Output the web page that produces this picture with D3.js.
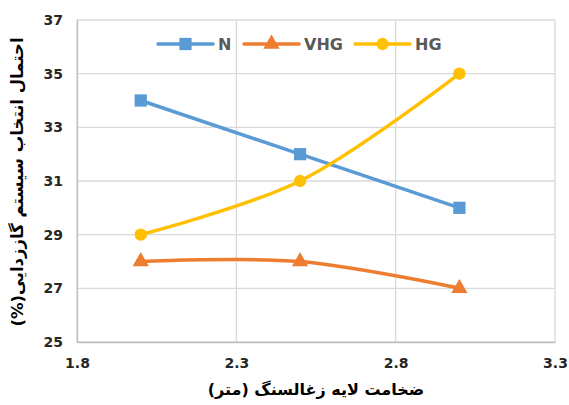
<!DOCTYPE html>
<html>
<head>
<meta charset="utf-8">
<script src="https://cdn.jsdelivr.net/npm/d3@7"></script>
<style>
  html, body { margin: 0; padding: 0; background: #fff; }
  svg { display: block; }
</style>
</head>
<body>
<svg id="chart" width="569" height="405"></svg>
<script>
// Coal-seam thickness (m) vs. probability of choosing each drainage system (%)
const thickness = [2.0, 2.5, 3.0];
const seriesNames = ["N", "VHG", "HG"];
const valuesN = [34, 32, 30];
const valuesVHG = [28, 28, 27];
const valuesHG = [29, 31, 35];
const xTicks = [1.8, 2.3, 2.8, 3.3];
const yTicks = [25, 27, 29, 31, 33, 35, 37];
const xTitle = "ضخامت لایه زغالسنگ (متر)";
const yTitle = "احتمال انتخاب سیستم گاززدایی(%)";

const colors = { N: "#5B9BD5", VHG: "#ED7D31", HG: "#FFC000" };
const smooth = { N: false, VHG: true, HG: true };
const symbols = { N: d3.symbolSquare, VHG: d3.symbolTriangle, HG: d3.symbolCircle };
const symbolSize = { N: 150, VHG: 115, HG: 120 };

const series = [
  { name: "N", values: valuesN },
  { name: "VHG", values: valuesVHG },
  { name: "HG", values: valuesHG }
];

const svg = d3.select("#chart");
const margin = { left: 77, right: 14, top: 20, bottom: 63 };
const W = 569, H = 405;

const x = d3.scaleLinear().domain([1.8, 3.3]).range([margin.left, W - margin.right]);
const y = d3.scaleLinear().domain([25, 37]).range([H - margin.bottom, margin.top]);

const numFont = "'DejaVu Sans', sans-serif";
const arFont = "'DejaVu Sans', sans-serif";

// Gridlines
const grid = svg.append("g");
grid.selectAll("line.h").data(yTicks).join("line")
  .attr("x1", x(1.8)).attr("x2", x(3.3))
  .attr("y1", d => y(d)).attr("y2", d => y(d))
  .attr("stroke", "#d9d9d9").attr("stroke-width", 1.3);
grid.selectAll("line.v").data(xTicks).join("line")
  .attr("y1", y(25)).attr("y2", y(37))
  .attr("x1", d => x(d)).attr("x2", d => x(d))
  .attr("stroke", "#d9d9d9").attr("stroke-width", 1.3);

// Axes (tick labels only)
const yAxis = d3.axisLeft(y).tickValues(yTicks).tickSize(0).tickPadding(14).tickFormat(d3.format("d"));
const gy = svg.append("g").attr("transform", `translate(${x(1.8)},0)`).call(yAxis);
gy.select(".domain").attr("stroke", "#bfbfbf").attr("stroke-width", 1.3);
gy.selectAll("text").attr("font-family", numFont).attr("font-weight", "bold")
  .attr("font-size", 14).attr("fill", "#262626");

const xAxis = d3.axisBottom(x).tickValues(xTicks).tickSize(0).tickPadding(16).tickFormat(d3.format(".1f"));
const gx = svg.append("g").attr("transform", `translate(0,${y(25)})`).call(xAxis);
gx.select(".domain").attr("stroke", "#bfbfbf").attr("stroke-width", 1.3);
gx.selectAll("text").attr("font-family", numFont).attr("font-weight", "bold")
  .attr("font-size", 14).attr("fill", "#262626");

// Axis titles
svg.append("text")
  .attr("x", (x(1.8) + x(3.3)) / 2).attr("y", 395)
  .attr("text-anchor", "middle").attr("direction", "rtl")
  .attr("font-family", arFont).attr("font-weight", "bold").attr("font-size", 16)
  .attr("fill", "#000").text(xTitle);

svg.append("text")
  .attr("transform", `translate(23,182) rotate(-90)`)
  .attr("text-anchor", "middle").attr("direction", "rtl")
  .attr("font-family", arFont).attr("font-weight", "bold").attr("font-size", 16.5)
  .attr("fill", "#000").text(yTitle);

// Series lines and markers
series.forEach(s => {
  const pts = thickness.map((t, i) => [t, s.values[i]]);
  const line = d3.line()
    .x(d => x(d[0])).y(d => y(d[1]))
    .curve(smooth[s.name] ? d3.curveCatmullRom.alpha(0.5) : d3.curveLinear);
  svg.append("path").datum(pts)
    .attr("d", line).attr("fill", "none")
    .attr("stroke", colors[s.name]).attr("stroke-width", 3.5)
    .attr("stroke-linecap", "round").attr("stroke-linejoin", "round");
  svg.append("g").selectAll("path").data(pts).join("path")
    .attr("transform", d => `translate(${x(d[0])},${y(d[1])})`)
    .attr("d", d3.symbol().type(symbols[s.name]).size(symbolSize[s.name]))
    .attr("fill", colors[s.name]);
});

// Legend
const legendX = [158, 244, 355];
const legend = svg.append("g");
seriesNames.forEach((name, i) => {
  const lx = legendX[i], ly = 44;
  legend.append("line")
    .attr("x1", lx).attr("x2", lx + 55).attr("y1", ly).attr("y2", ly)
    .attr("stroke", colors[name]).attr("stroke-width", 3.5).attr("stroke-linecap", "round");
  legend.append("path")
    .attr("transform", `translate(${lx + 27.5},${ly})`)
    .attr("d", d3.symbol().type(symbols[name]).size(symbolSize[name]))
    .attr("fill", colors[name]);
  legend.append("text")
    .attr("x", lx + 60).attr("y", ly + 6)
    .attr("font-family", numFont).attr("font-weight", "bold").attr("font-size", 16)
    .attr("fill", "#595959").text(name);
});
</script>
</body>
</html>
